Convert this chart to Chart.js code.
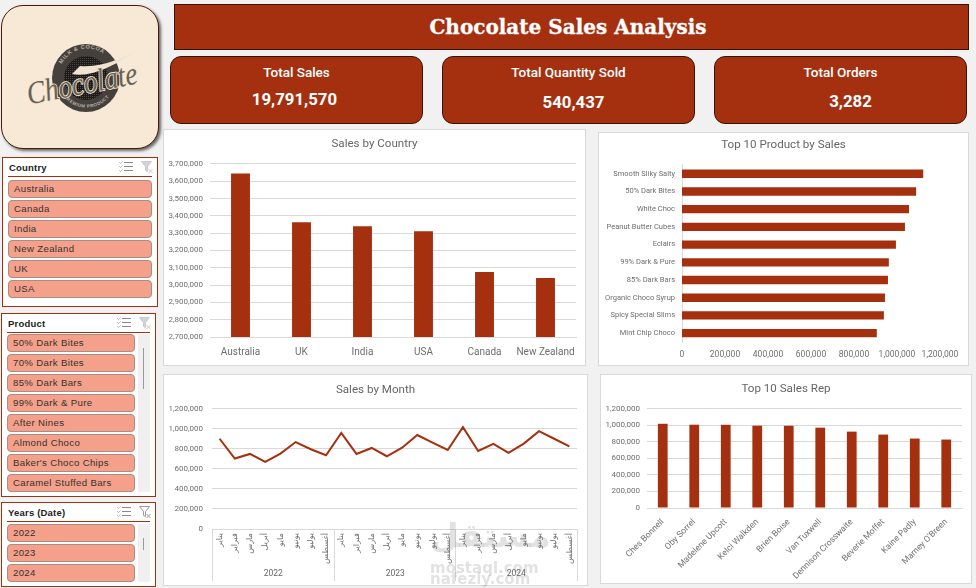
<!DOCTYPE html>
<html>
<head>
<meta charset="utf-8">
<title>Chocolate Sales Analysis</title>
<script src="https://cdn.jsdelivr.net/npm/chart.js@4/dist/chart.umd.min.js"></script>
<style>
  html, body { margin: 0; padding: 0; }
  body { width: 976px; height: 588px; background: #f1f1f1; position: relative; overflow: hidden; font-family: Roboto, sans-serif; }
  .abs { position: absolute; box-sizing: border-box; }
  .panel { position: absolute; box-sizing: border-box; background: #fff; border: 1px solid #d9d9d9; }
  .panel canvas { position: absolute; left: -1px; top: -1px; }
  #banner { left: 174px; top: 4px; width: 795px; height: 46px; background: #a5300f; border: 1px solid #3a1206; color: #fff;
    font: bold 20px "DejaVu Serif", serif; text-align: center; line-height: 44px; padding-right: 7px; -webkit-text-stroke: .3px #fff; }
  .card { background: #a5300f; border: 1px solid #3a1206; border-radius: 11px; color: #fff; text-align: center; width: 253px; height: 68px; top: 56px; }
  .card .lbl { position: absolute; left: 0; right: 0; top: 7px; font: 500 13.5px Roboto, sans-serif; }
  .card .val { position: absolute; left: 0; right: 0; font: bold 16.8px Roboto, sans-serif; }
  #logo { left: 1px; top: 5px; width: 158px; height: 144px; background: #f8e9d6; border: 1px solid #4a1a0a; border-radius: 22px; box-shadow: 2px 2px 3px #666; }
  .slicer { background: #fff; border: 1px solid #a5300f; overflow: hidden; }
  .slicer .head { position: absolute; left: 6px; top: 4px; font: bold 9.5px "Liberation Sans", sans-serif; color: #222; letter-spacing: .2px; }
  .slicer .rule { position: absolute; left: 5px; height: 1px; background: #a5300f; }
  .slicer .item { position: absolute; left: 5px; height: 17.5px; box-sizing: border-box; background: #f4a08a; border: 1px solid #a98c82; border-radius: 4px;
    font: 9.6px/15.5px "Liberation Sans", sans-serif; color: #333; padding-left: 5px; letter-spacing: .35px; }
  .slicer .track { position: absolute; width: 12px; background: #f0f0f0; }
  .slicer .thumb { position: absolute; width: 1px; background: #9a9a9a; left: 5px; }
  .slicer svg { position: absolute; }
  .mark { position: absolute; color: rgba(110,110,110,.2); font-family: "DejaVu Sans", sans-serif; font-weight: bold; pointer-events: none; white-space: nowrap; }
</style>
</head>
<body>
<div id="banner" class="abs">Chocolate Sales Analysis</div>

<div id="logo" class="abs">
  <svg width="156" height="142" viewBox="0 0 156 142">
    <defs>
      <path id="arcTop" d="M 60 58 A 28 28 0 0 1 104 50"/>
      <path id="arcBot" d="M 62 91 A 29 29 0 0 0 112 82"/>
      <pattern id="dots" width="2" height="2" patternUnits="userSpaceOnUse"><rect width="2" height="2" fill="#1d1a19"/><rect width="1" height="1" fill="#4a4644"/></pattern>
    </defs>
    <circle cx="84" cy="72" r="34" fill="#45403c"/>
    <circle cx="84" cy="72" r="22" fill="url(#dots)"/>
    <text font-family="Liberation Sans" font-size="5.5" font-weight="bold" fill="#b9b0a6" letter-spacing=".6"><textPath href="#arcTop">MILK &amp; COCOA</textPath></text>
    <text font-family="Liberation Sans" font-size="4.6" font-weight="bold" fill="#b9b0a6" letter-spacing=".4"><textPath href="#arcBot">PREMIUM PRODUCT</textPath></text>
    <path d="M 70 68 C 90 72 115 58 133 46 C 118 52 100 62 78 60 Z" fill="#efe3d2"/>
    <text x="24" y="88" transform="rotate(-11 80 78)" font-family="Liberation Serif" font-style="italic" font-size="32" textLength="112" lengthAdjust="spacingAndGlyphs"
      fill="#6a5f52" stroke="#f0e4d3" stroke-width="1.8" paint-order="stroke">Chocolate</text>
  </svg>
</div>

<div class="panel" style="left:163px;top:129px;width:423px;height:237px"><canvas id="countryChart"></canvas></div>
<div class="panel" style="left:598px;top:132px;width:371px;height:234px"><canvas id="productChart"></canvas></div>
<div class="panel" style="left:163px;top:374px;width:425px;height:212px"><canvas id="monthChart"></canvas></div>
<div class="panel" style="left:600px;top:374px;width:372px;height:210px"><canvas id="repChart"></canvas></div>

<div class="mark" style="left:430px;top:516px;font-size:33px" dir="rtl">مستقل</div>
<div class="mark" style="left:430px;top:559px;font-size:15px">mostaql.com</div>
<div class="mark" style="left:430px;top:570px;font-size:15px">nafezly.com</div>

<script>
const brick = "#a5300f";
const gridGrey = "#d9d9d9";
const tickGrey = "#6e6e6e";

const kpiLabels = ["Total Sales", "Total Quantity Sold", "Total Orders"];
const kpiValues = ["19,791,570", "540,437", "3,282"];

const countrySlicer = ["Australia", "Canada", "India", "New Zealand", "UK", "USA"];
const productSlicer = ["50% Dark Bites", "70% Dark Bites", "85% Dark Bars", "99% Dark & Pure", "After Nines", "Almond Choco", "Baker's Choco Chips", "Caramel Stuffed Bars"];
const yearSlicer = ["2022", "2023", "2024"];

const countries = ["Australia", "UK", "India", "USA", "Canada", "New Zealand"];
const countrySales = [3644000, 3363000, 3340000, 3311000, 3075000, 3041000];

const products = ["Smooth Sliky Salty", "50% Dark Bites", "White Choc", "Peanut Butter Cubes", "Eclairs", "99% Dark & Pure", "85% Dark Bars", "Organic Choco Syrup", "Spicy Special Slims", "Mint Chip Choco"];
const productSales = [1122000, 1089000, 1056000, 1037000, 995000, 962000, 958000, 944000, 939000, 906000];

const monthNames = ["يناير", "فبراير", "مارس", "أبريل", "مايو", "يونيو", "يوليو", "أغسطس"];
const years = ["2022", "2023", "2024"];
const monthLabels = [...monthNames, ...monthNames, ...monthNames];
const monthSales = [902000, 704000, 750000, 671000, 754000, 869000, 797000, 737000,
  959000, 750000, 810000, 727000, 813000, 939000, 863000, 790000,
  1018000, 780000, 850000, 760000, 853000, 978000, 902000, 826000];

const reps = ["Ches Bonnell", "Oby Sorrel", "Madelene Upcott", "Kelci Walkden", "Brien Boise", "Van Tuxwell", "Dennison Crosswaite", "Beverie Moffet", "Kaine Padly", "Marney O'Breen"];
const repSales = [1020000, 1009000, 1008000, 997000, 996000, 973000, 925000, 889000, 841000, 829000];

// kpi cards
const cardLeft = [170, 442, 714];
const valueTop = [32, 35, 34];
const valueShift = [-2, 5, 10];
kpiLabels.forEach((label, i) => {
  const card = document.createElement("div");
  card.className = "abs card";
  card.style.left = cardLeft[i] + "px";
  card.innerHTML = `<div class="lbl">${label}</div><div class="val" style="top:${valueTop[i]}px;transform:translateX(${valueShift[i]}px)">${kpiValues[i]}</div>`;
  document.body.appendChild(card);
});

// slicers
const listIcon = (x, y) => `<svg style="left:${x}px;top:${y}px" width="14" height="11" viewBox="0 0 14 11" fill="none" stroke="#8a8a8a" stroke-width="1">
  <path d="M5 1.5h9M5 5.5h9M5 9.5h9" /><path d="M0.5 1.5l1 1 2-2M0.5 5.5l1 1 2-2M0.5 9.5l1 1 2-2" stroke-dasharray="1 .5"/></svg>`;
const clearIcon = (x, y, col, fill) => `<svg style="left:${x}px;top:${y}px" width="13" height="13" viewBox="0 0 13 13" fill="${fill}" stroke="${col}" stroke-width="1">
  <path d="M.5 .5h10l-4 5v5l-2 -1v-4z"/><path d="M7.5 8l4 4M11.5 8l-4 4"/></svg>`;

const addSlicer = (name, items, box) => {
  const el = document.createElement("div");
  el.className = "abs slicer";
  el.style.cssText = `left:${box.x}px;top:${box.y}px;width:${box.w}px;height:${box.h}px`;
  let html = `<div class="head">${name}</div><div class="rule" style="top:${box.rule}px;width:${box.w - 12}px"></div>`;
  html += listIcon(box.w - 40, 3) + clearIcon(box.w - 18, 3, box.clearCol, box.clearFill);
  if (box.track) {
    html += `<div class="track" style="left:${box.w - 19}px;top:${box.first}px;height:${box.h - box.first - 6}px"><div class="thumb" style="top:${box.track[0]}px;height:${box.track[1]}px"></div></div>`;
  }
  items.forEach((item, i) => {
    html += `<div class="item" style="top:${box.first + i * 20}px;width:${box.itemW}px">${item.replace("&", "&amp;")}</div>`;
  });
  el.innerHTML = html;
  document.body.appendChild(el);
};

addSlicer("Country", countrySlicer, { x: 2, y: 157, w: 156, h: 150, rule: 18, first: 22, itemW: 144, clearCol: "#c9c9c9", clearFill: "#d4d4d4" });
addSlicer("Product", productSlicer, { x: 1, y: 313, w: 155, h: 184, rule: 18, first: 20, itemW: 128, track: [14, 41], clearCol: "#c9c9c9", clearFill: "#d4d4d4" });
addSlicer("Years (Date)", yearSlicer, { x: 1, y: 502, w: 155, h: 85, rule: 18, first: 21, itemW: 128, track: [14, 12], clearCol: "#9a9a9a", clearFill: "none" });

// charts
Chart.defaults.font.family = "Roboto, sans-serif";
Chart.defaults.animation = false;

// the right padding would pull the title off centre, so span it over the whole canvas
Chart.register({
  id: "centerTitle",
  afterLayout(chart) {
    if (!chart.titleBlock) return;
    chart.titleBlock.left = 0;
    chart.titleBlock.right = chart.width;
  },
});

const fmt = (v) => Number(v).toLocaleString("en-US");

const sizeCanvas = (id, w, h) => {
  const c = document.getElementById(id);
  c.width = w;
  c.height = h;
  c.style.width = w + "px";
  c.style.height = h + "px";
  return c;
};

const titleOpts = (text, top, bottom) => ({
  display: true,
  text: text,
  color: "#666666",
  font: { size: 11.6, weight: "normal" },
  padding: { top: top, bottom: bottom },
});

const valueAxis = (min, max, step, width, pad) => ({
  min: min,
  max: max,
  afterFit: (s) => { s.width = width; },
  ticks: { stepSize: step, color: tickGrey, font: { size: 8 }, padding: pad, callback: (v) => fmt(v) },
  grid: { color: gridGrey, drawTicks: false },
  border: { display: false },
});

// Sales by Country
new Chart(sizeCanvas("countryChart", 423, 237), {
  type: "bar",
  data: { labels: countries, datasets: [{ data: countrySales, backgroundColor: brick, barPercentage: 0.31, categoryPercentage: 1 }] },
  options: {
    responsive: false,
    layout: { padding: { right: 10 } },
    plugins: { legend: { display: false }, tooltip: { enabled: false }, title: titleOpts("Sales by Country", 8.5, 12.5) },
    scales: {
      x: {
        afterFit: (s) => { s.height = 29; },
        ticks: { color: tickGrey, font: { size: 10 }, padding: 1.5, maxRotation: 0, autoSkip: false },
        grid: { display: false },
        border: { color: gridGrey },
      },
      y: valueAxis(2700000, 3700000, 100000, 47, 7),
    },
  },
});

// Top 10 Product by Sales
new Chart(sizeCanvas("productChart", 371, 234), {
  type: "bar",
  data: { labels: products, datasets: [{ data: productSales, backgroundColor: brick, barPercentage: 0.47, categoryPercentage: 1 }] },
  options: {
    indexAxis: "y",
    responsive: false,
    layout: { padding: { right: 29 } },
    plugins: { legend: { display: false }, tooltip: { enabled: false }, title: titleOpts("Top 10 Product by Sales", 6.5, 12.5) },
    scales: {
      x: {
        min: 0,
        max: 1200000,
        afterFit: (s) => { s.height = 24; },
        ticks: { stepSize: 200000, color: tickGrey, font: { size: 8.5 }, padding: 0, maxRotation: 0, callback: (v) => fmt(v) },
        grid: { display: false },
        border: { display: false },
      },
      y: {
        afterFit: (s) => { s.width = 84; },
        ticks: { color: tickGrey, font: { size: 7.5 }, padding: 7, autoSkip: false },
        grid: { display: false, drawTicks: false },
        border: { color: gridGrey },
      },
    },
  },
});

// year groups under the month labels
const yearGroups = {
  id: "yearGroups",
  afterDraw(chart) {
    const x = chart.scales.x;
    const ctx = chart.ctx;
    const perYear = monthNames.length;
    const step = x.getPixelForValue(1) - x.getPixelForValue(0);
    const top = chart.chartArea.bottom;
    const bottom = top + 52;
    ctx.save();
    ctx.strokeStyle = gridGrey;
    ctx.fillStyle = "#666666";
    ctx.font = "8.5px Roboto, sans-serif";
    ctx.textAlign = "center";
    ctx.textBaseline = "middle";
    for (let i = 0; i <= years.length; i++) {
      const px = Math.round(x.getPixelForValue(i * perYear) - step / 2) + 0.5;
      ctx.beginPath();
      ctx.moveTo(px, top);
      ctx.lineTo(px, bottom);
      ctx.stroke();
      if (i < years.length) ctx.fillText(years[i], px + (step * perYear) / 2, bottom - 7);
    }
    ctx.restore();
  },
};

// Sales by Month
new Chart(sizeCanvas("monthChart", 425, 212), {
  type: "line",
  data: { labels: monthLabels, datasets: [{ data: monthSales, borderColor: brick, borderWidth: 2, pointRadius: 0, tension: 0 }] },
  options: {
    responsive: false,
    layout: { padding: { right: 11 } },
    plugins: { legend: { display: false }, tooltip: { enabled: false }, title: titleOpts("Sales by Month", 9.5, 11.5) },
    scales: {
      x: {
        offset: true,
        afterFit: (s) => { s.height = 57; },
        ticks: { color: tickGrey, font: { family: "'DejaVu Sans'", size: 8.2 }, padding: 4, minRotation: 90, maxRotation: 90, autoSkip: false },
        grid: { display: false, drawTicks: false },
        border: { color: gridGrey },
      },
      y: valueAxis(0, 1200000, 200000, 49, 9),
    },
  },
  plugins: [yearGroups],
});

// Top 10 Sales Rep
new Chart(sizeCanvas("repChart", 372, 210), {
  type: "bar",
  data: { labels: reps, datasets: [{ data: repSales, backgroundColor: brick, barPercentage: 0.31, categoryPercentage: 1 }] },
  options: {
    responsive: false,
    layout: { padding: { right: 10 } },
    plugins: { legend: { display: false }, tooltip: { enabled: false }, title: titleOpts("Top 10 Sales Rep", 8.5, 12.5) },
    scales: {
      x: {
        afterFit: (s) => { s.height = 76; },
        ticks: { color: tickGrey, font: { size: 8.6 }, padding: 1, minRotation: 45, maxRotation: 45, autoSkip: false },
        grid: { display: false },
        border: { color: gridGrey },
      },
      y: valueAxis(0, 1200000, 200000, 47, 7),
    },
  },
});
</script>
</body>
</html>
